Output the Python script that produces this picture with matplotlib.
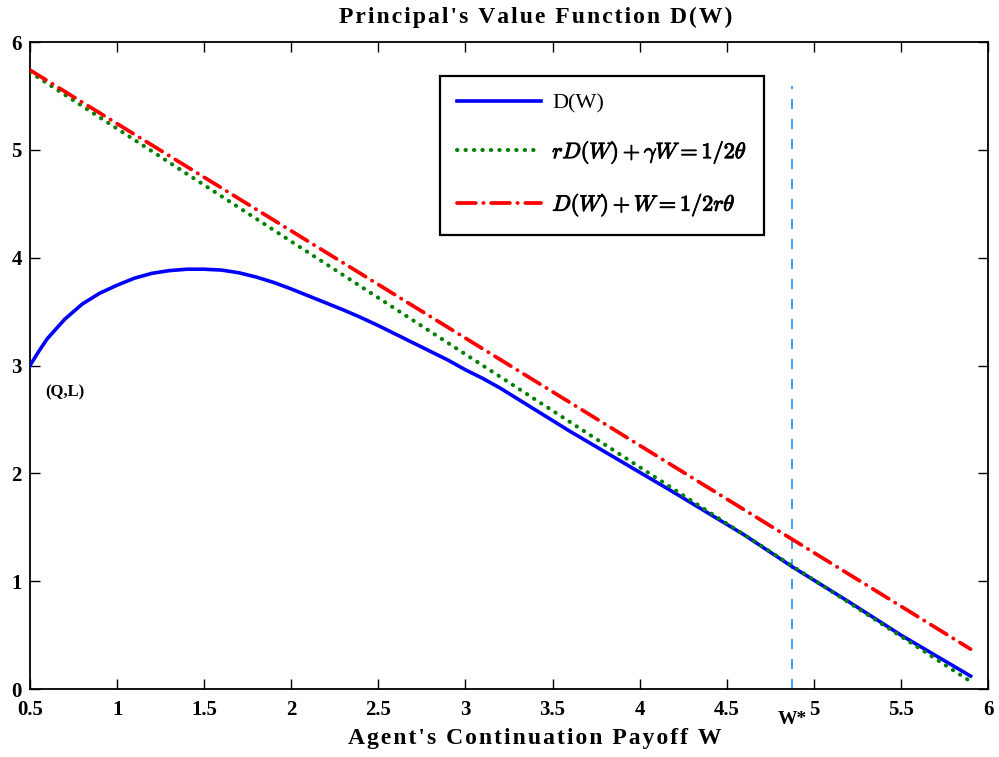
import numpy as np
from matplotlib import pyplot as plt
import matplotlib.patheffects as pe

plt.rcParams['font.family'] = ['Liberation Serif', 'DejaVu Serif']
plt.rcParams['mathtext.fontset'] = 'cm'

# principal's value function D(W)
w_d = [0.5, 0.55, 0.6, 0.7, 0.8, 0.9, 1.0, 1.1, 1.2, 1.3, 1.4, 1.5, 1.6, 1.7,
       1.8, 1.9, 2.0, 2.1, 2.2, 2.3, 2.4, 2.5, 2.6, 2.7, 2.8, 2.9, 3.0, 3.1,
       3.2, 3.3, 3.4, 3.5, 3.6, 3.8, 4.0, 4.2, 4.4, 4.6, 4.876, 5.2, 5.5, 5.9]
d_w = [3.00, 3.13, 3.25, 3.43, 3.57, 3.67, 3.745, 3.81, 3.855, 3.88, 3.893,
       3.893, 3.885, 3.86, 3.82, 3.77, 3.71, 3.645, 3.58, 3.515, 3.445, 3.37,
       3.29, 3.21, 3.13, 3.05, 2.96, 2.88, 2.79, 2.69, 2.59, 2.49, 2.39, 2.20,
       2.01, 1.82, 1.625, 1.43, 1.134, 0.81, 0.50, 0.12]

# straight lines
w_green = [0.5, 5.9]
d_green = [5.72, 0.07]
w_red = [0.5, 5.9]
d_red = [5.74, 0.37]

w_star = 4.876
w_star_top = 5.59

xticks = [0.5, 1, 1.5, 2, 2.5, 3, 3.5, 4, 4.5, 5, 5.5, 6]
xticklabels = ['0.5', '1', '1.5', '2', '2.5', '3', '3.5', '4', '4.5', '5', '5.5', '6']
yticks = [0, 1, 2, 3, 4, 5, 6]


def spaced(s):
    # wide letter spacing like the original export
    return '\u200a'.join(s)


fig = plt.figure(figsize=(9.99, 7.57), dpi=100)
ax = fig.add_axes([0.030, 0.0898, 0.959, 0.8547])

ax.plot(w_d, d_w, color='blue', lw=2.6, label='D(W)', zorder=3)
ax.plot(w_green, d_green, color='green', lw=2.9, linestyle=(0, (0.1, 2.0)),
        dash_capstyle='round', label=r'$rD(W)+\gamma W=1/2\theta$', zorder=4)
ax.plot(w_red, d_red, color='red', lw=2.7, linestyle=(0, (5, 2, 0.1, 2)),
        dash_capstyle='round', label=r'$D(W)+W=1/2r\theta$', zorder=4)
ax.plot([w_star, w_star], [0, w_star_top], color='#1E90FF', lw=1.2,
        linestyle=(0, (6, 6)), zorder=2)

ax.set_xlim(0.5, 6)
ax.set_ylim(0, 6)
ax.set_xticks(xticks)
ax.set_xticklabels(xticklabels)
ax.set_yticks(yticks)
ax.tick_params(direction='in', top=True, right=True, length=7, width=1,
               labelsize=15)
ax.tick_params(axis='x', pad=8)
ax.tick_params(axis='y', pad=6)
for lab in ax.get_xticklabels() + ax.get_yticklabels():
    lab.set_fontweight('bold')
for s in ax.spines.values():
    s.set_linewidth(1.3)

ax.text(0.70, 2.75, '(Q,L)', fontsize=12, fontweight='bold', ha='center', va='center')
ax.text(w_star, -0.047, 'W*', transform=ax.get_xaxis_transform(), fontsize=14,
        fontweight='bold', ha='center', va='center')

ax.set_title(spaced("Principal's Value Function D(W)"), fontsize=17,
             fontweight='bold', pad=14, x=0.528)
ax.set_xlabel(spaced("Agent's Continuation Payoff W"), fontsize=17,
              fontweight='bold')
ax.xaxis.set_label_coords(0.527, -0.060)

leg = ax.legend(loc='upper left', bbox_to_anchor=(0.428, 0.947), fontsize=16,
                handlelength=3.8, handletextpad=0.5, labelspacing=1.15,
                borderpad=0.75, fancybox=False, edgecolor='black', framealpha=1,
                borderaxespad=0)
leg.get_frame().set_linewidth(1.6)
for t in leg.get_texts()[1:]:
    t.set_path_effects([pe.withStroke(linewidth=0.7, foreground='black')])

plt.savefig('out.png', dpi=100)
